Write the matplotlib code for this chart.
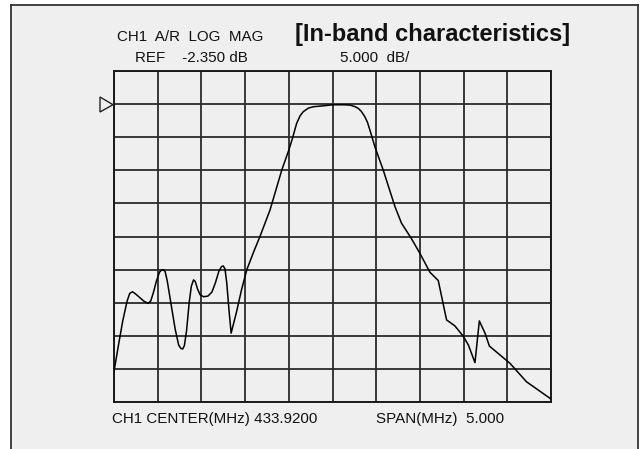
import matplotlib
matplotlib.use("Agg")
import matplotlib.pyplot as plt
from matplotlib.lines import Line2D
from matplotlib.patches import Rectangle, Polygon
import numpy as np

plt.rcParams['font.family'] = ['Liberation Sans', 'DejaVu Sans']

# ---- data ----
center_mhz = 433.92
span_mhz = 5.0
ref_db = -2.35
db_per_div = 5.0

# frequency offsets in divisions (0..10) and levels in divisions below top line
x_div = [0.00, 0.10, 0.20, 0.30, 0.36, 0.42, 0.48, 0.55, 0.68, 0.78, 0.84, 0.90,
         0.97, 1.04, 1.09, 1.13, 1.17, 1.22, 1.30, 1.40, 1.48, 1.53, 1.57, 1.61,
         1.66, 1.72, 1.77, 1.82, 1.86, 1.91, 1.97, 2.05, 2.15, 2.24, 2.32, 2.40,
         2.46, 2.50, 2.54, 2.58, 2.63, 2.68, 2.80, 2.92, 3.04, 3.20, 3.34, 3.57,
         3.84, 4.00, 4.08, 4.18, 4.26, 4.33, 4.45, 4.56, 4.80, 5.02, 5.25, 5.40,
         5.52, 5.59, 5.66, 5.74, 5.80, 5.86, 5.97, 6.16, 6.43, 6.58, 6.80, 7.00,
         7.23, 7.42, 7.61, 7.80, 7.99, 8.11, 8.26, 8.36, 8.49, 8.59, 9.06, 9.44,
         10.0]
y_div = [9.08, 8.30, 7.55, 6.95, 6.72, 6.67, 6.72, 6.80, 6.95, 7.02, 6.95, 6.70,
         6.35, 6.08, 6.01, 6.00, 6.06, 6.35, 7.00, 7.80, 8.28, 8.38, 8.40, 8.30,
         7.85, 7.00, 6.50, 6.31, 6.36, 6.58, 6.76, 6.82, 6.80, 6.68, 6.40, 6.05,
         5.91, 5.89, 5.98, 6.40, 7.20, 7.92, 7.30, 6.60, 6.00, 5.45, 5.00, 4.20,
         2.99, 2.39, 2.05, 1.58, 1.35, 1.23, 1.12, 1.08, 1.05, 1.02, 1.02, 1.03,
         1.08, 1.13, 1.22, 1.38, 1.55, 1.80, 2.29, 2.99, 4.10, 4.60, 5.05, 5.51,
         6.08, 6.33, 7.52, 7.70, 8.01, 8.28, 8.81, 7.55, 7.92, 8.31, 8.83, 9.39,
         9.91]

f_start = center_mhz - span_mhz / 2
f_step = span_mhz / 10
top_db = ref_db + db_per_div  # reference line is one division below top
freq = [f_start + f_step * v for v in x_div]
level = [top_db - db_per_div * v for v in y_div]

header_left = "CH1  A/R  LOG  MAG"
title = "[In-band characteristics]"
ref_text = "REF    -2.350 dB"
scale_text = "5.000  dB/"
center_text = "CH1 CENTER(MHz) 433.9200"
span_text = "SPAN(MHz)  5.000"

# ---- figure ----
W, H = 640, 449
fig = plt.figure(figsize=(W / 100, H / 100), dpi=100, facecolor='white')

def fx(px):
    return px / W

def fy(py):
    return 1 - py / H

# panel background with open bottom
fig.patches.append(Rectangle((fx(11), 0), fx(638) - fx(11), fy(5), transform=fig.transFigure,
                             facecolor='#efefef', edgecolor='none', zorder=-10))
for xs, ys in [([11, 11], [5, 449]), ([11, 638], [5, 5]), ([638, 638], [5, 449])]:
    fig.add_artist(Line2D([fx(v) for v in xs], [fy(v) for v in ys], transform=fig.transFigure,
                          color='#333333', lw=1.3))

ax = fig.add_axes([fx(114), fy(402), fx(551) - fx(114), fy(71) - fy(402)])
ax.set_facecolor('#efefef')
f_end = f_start + span_mhz
bot_db = top_db - 10 * db_per_div
ax.set_xlim(f_start, f_end)
ax.set_ylim(bot_db, top_db)
ax.set_xticks(np.linspace(f_start, f_end, 11))
ax.set_yticks(np.linspace(bot_db, top_db, 11))
ax.grid(True, color='#2a2a2a', lw=1.3)
ax.tick_params(length=0, labelbottom=False, labelleft=False)
for s in ax.spines.values():
    s.set_color('#1a1a1a')
    s.set_linewidth(1.4)

ax.plot(freq, level, color='black', lw=1.1, zorder=5)

# reference marker triangle
fig.patches.append(Polygon([(fx(100), fy(97)), (fx(113), fy(104.7)), (fx(100), fy(112))],
                           closed=True, transform=fig.transFigure, facecolor='none',
                           edgecolor='#222222', lw=1.0, zorder=3))

fs = 10.9
fig.text(fx(117), fy(37), header_left, fontsize=fs, va='center', ha='left', color='#111111')
fig.text(fx(295), fy(35), title, fontsize=17, fontweight='bold', va='center', ha='left', color='#111111')
fig.text(fx(135), fy(58), ref_text, fontsize=fs, va='center', ha='left', color='#111111')
fig.text(fx(340), fy(58), scale_text, fontsize=fs, va='center', ha='left', color='#111111')
fig.text(fx(112), fy(419), center_text, fontsize=fs, va='center', ha='left', color='#111111')
fig.text(fx(376), fy(419), span_text, fontsize=fs, va='center', ha='left', color='#111111')

fig.savefig('out.png', dpi=100, facecolor='white')
